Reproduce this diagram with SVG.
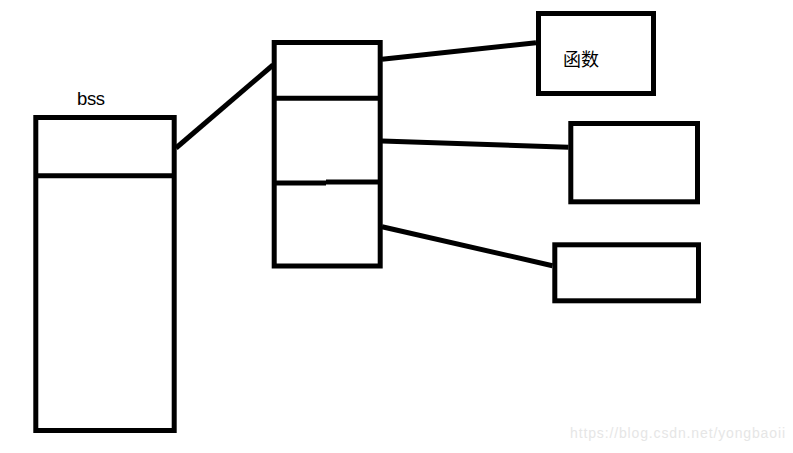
<svg xmlns="http://www.w3.org/2000/svg" width="793" height="453" viewBox="0 0 793 453">
<style>
.box{fill:none;stroke:#000;stroke-width:5}
.ln{stroke:#000;stroke-width:5;fill:none}
.t{font-family:"Liberation Sans","Noto Sans CJK SC",sans-serif;fill:#000}
.wm{font-family:"Liberation Sans",sans-serif;font-size:14px;fill:#e6e6e6}
</style>
<rect width="793" height="453" fill="#fff"/>
<g id="bss">
<text class="t" x="77" y="105" font-size="18.5" textLength="28">bss</text>
<rect class="box" x="35.8" y="117.5" width="138.4" height="313"/>
<line class="ln" x1="35.8" y1="175.8" x2="174.2" y2="175.8"/>
</g>
<g id="table">
<rect class="box" x="274.2" y="42.5" width="106" height="223.5"/>
<line class="ln" x1="274.2" y1="98.3" x2="380.2" y2="98.3"/>
<line class="ln" x1="274.2" y1="183" x2="326" y2="183"/>
<line class="ln" x1="326" y1="182" x2="380.2" y2="182"/>
</g>
<g id="func">
<rect class="box" x="538.5" y="13.5" width="115" height="80"/>
<text class="t" x="563" y="66" font-size="18" font-family="'Noto Sans CJK SC',sans-serif">函数</text>
</g>
<g id="box2">
<rect class="box" x="570.8" y="123.5" width="126.7" height="78.3"/>
</g>
<g id="box3">
<rect class="box" x="554.8" y="244.8" width="143.7" height="56"/>
</g>
<g id="connectors">
<line class="ln" x1="176" y1="148" x2="273" y2="65"/>
<line class="ln" x1="382" y1="59.3" x2="536" y2="42.7"/>
<line class="ln" x1="382" y1="141" x2="568.5" y2="147.3"/>
<line class="ln" x1="382" y1="226.7" x2="552.5" y2="265.7"/>
</g>
<text class="wm" x="570" y="438" textLength="215">https://blog.csdn.net/yongbaoii</text>
</svg>
